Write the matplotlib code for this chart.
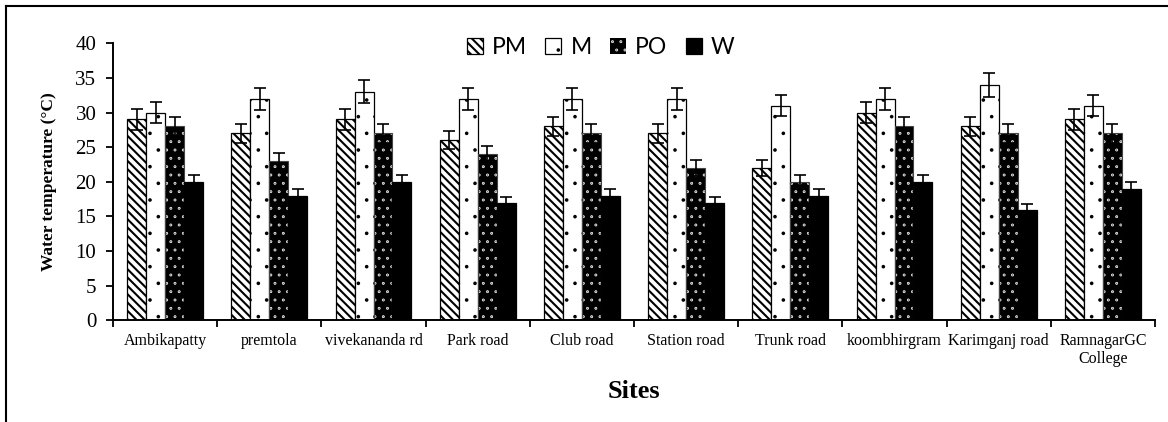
import matplotlib.pyplot as plt
import matplotlib.hatch as mhatch
import numpy as np
from matplotlib.lines import Line2D

sites = ['Ambikapatty', 'premtola', 'vivekananda rd', 'Park road', 'Club road',
         'Station road', 'Trunk road', 'koombhirgram', 'Karimganj road',
         'RamnagarGC\nCollege']

pm = [29, 27, 29, 26, 28, 27, 22, 30, 28, 29]
m = [30, 32, 33, 32, 32, 32, 31, 32, 34, 31]
po = [28, 23, 27, 24, 27, 22, 20, 28, 27, 27]
w_vals = [20, 18, 20, 17, 18, 17, 18, 20, 16, 19]

pm_err = [1.45, 1.35, 1.45, 1.3, 1.4, 1.35, 1.1, 1.5, 1.4, 1.45]
m_err = [1.5, 1.6, 1.65, 1.6, 1.6, 1.6, 1.55, 1.6, 1.7, 1.55]
po_err = [1.4, 1.15, 1.35, 1.2, 1.35, 1.1, 1.0, 1.4, 1.35, 1.35]
w_err = [1.0, 0.9, 1.0, 0.85, 0.9, 0.85, 0.9, 1.0, 0.8, 0.95]

plt.rcParams['font.family'] = ['Liberation Serif', 'DejaVu Serif']
plt.rcParams['hatch.linewidth'] = 1.5
# small dot shapes, the hatch stroke adds to their size
mhatch.SmallFilledCircles.size = 0.045

fig = plt.figure(figsize=(11.68, 4.22), dpi=100)
ax = fig.add_axes([113/1168, 1 - 320.3/422, (1155 - 113)/1168, (320.3 - 43.3)/422])

x = np.arange(len(sites))
bw = 0.182
err_kw = dict(ecolor='black', elinewidth=1.2, capsize=4, capthick=1.2)

b_pm = ax.bar(x - 1.5*bw, pm, bw, yerr=pm_err, color='white', edgecolor='black',
              hatch='\\\\\\\\', linewidth=0.9, error_kw=err_kw, label='PM')
b_m = ax.bar(x - 0.5*bw, m, bw, yerr=m_err, color='white', edgecolor='black',
             hatch='.', linewidth=0.9, error_kw=err_kw, label='M')
# black bars with white dots: hatch in white, outline drawn on top
b_po = ax.bar(x + 0.5*bw, po, bw, color='black', edgecolor='white',
              hatch='..', linewidth=0, label='PO')
ax.bar(x + 0.5*bw, po, bw, yerr=po_err, fill=False, edgecolor='#444444',
       linewidth=0.8, error_kw=err_kw)
b_w = ax.bar(x + 1.5*bw, w_vals, bw, yerr=w_err, color='black', edgecolor='black',
             linewidth=0.9, error_kw=err_kw, label='W')

ax.set_xlim(-0.5, len(sites) - 0.5)
ax.set_ylim(0, 40)
ax.set_yticks(range(0, 41, 5))
ax.set_xticks(x)
ax.set_xticklabels(sites, fontsize=11.5)
ax.set_xticks(np.arange(-0.5, len(sites), 1), minor=True)
ax.tick_params(axis='x', which='major', length=0, pad=9)
ax.tick_params(axis='x', which='minor', length=5, width=1.3, direction='out')
ax.tick_params(axis='y', length=5, width=1.3, labelsize=15, pad=7)

for s in ['top', 'right']:
    ax.spines[s].set_visible(False)
for s in ['left', 'bottom']:
    ax.spines[s].set_linewidth(1.4)

ax.set_ylabel('Water temperature (°C)', fontsize=12.5, fontweight='bold', labelpad=13)
fig.text(634/1168, 1 - 391/422, 'Sites', fontsize=19, fontweight='bold',
         ha='center', va='center')

ax.legend(handles=[b_pm, b_m, b_po, b_w], loc='center', bbox_to_anchor=(0.468, 0.985),
          ncol=4, frameon=False, prop={'family': 'Lato', 'size': 16.5},
          handlelength=0.7, handleheight=0.7, handletextpad=0.4, columnspacing=0.8,
          borderpad=0)

# outer border (only left and top visible in the crop)
fig.add_artist(Line2D([6/1168, 6/1168], [0, 1 - 6/422], transform=fig.transFigure,
                      color='black', linewidth=1.5))
fig.add_artist(Line2D([6/1168, 1], [1 - 6/422, 1 - 6/422], transform=fig.transFigure,
                      color='black', linewidth=1.5))

fig.savefig('out.png', dpi=100)
